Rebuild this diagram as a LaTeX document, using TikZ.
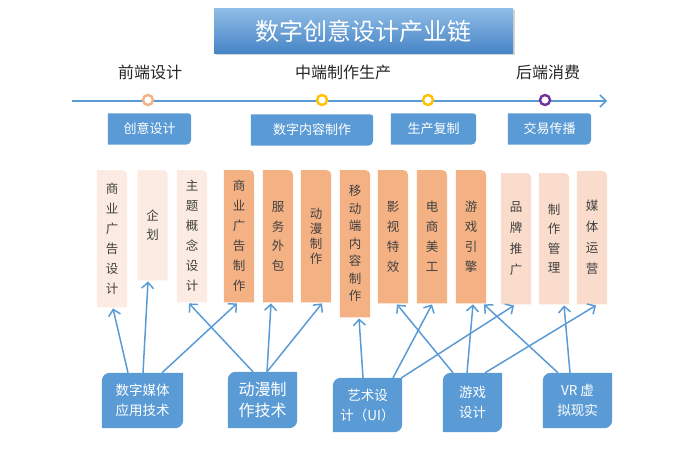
\documentclass[tikz,border=0pt]{standalone}
\usepackage{fontspec}
\setmainfont{Noto Sans CJK SC}
\usepackage{tikz}
\usetikzlibrary{arrows.meta}
\usetikzlibrary{backgrounds}
\usetikzlibrary{shadows}

\definecolor{mblue}{HTML}{5B9BD5}
\definecolor{tblue}{HTML}{8FBCE6}
\definecolor{dblue}{HTML}{4785C6}
\definecolor{pinkL}{HTML}{FCEBE2}
\definecolor{pinkM}{HTML}{F9DCCB}
\definecolor{orangeM}{HTML}{F4B183}
\definecolor{gold}{HTML}{FFC000}
\definecolor{violet}{HTML}{7030A0}
\definecolor{ink}{HTML}{404040}

\begin{document}
\begin{tikzpicture}[x=1pt,y=1pt,
    title/.style={minimum width=299pt,minimum height=44pt,top color=tblue,bottom color=dblue,
      text=white,font=\fontsize{24}{28}\selectfont,
      drop shadow={opacity=0.35,shadow xshift=1.5pt,shadow yshift=-1.5pt}},
    head/.style={text=black!85,font=\fontsize{16}{18}\selectfont},
    ring/.style={circle,draw=#1,line width=2.4pt,fill=white,minimum size=10pt,inner sep=0pt},
    stage/.style={text=white,font=\fontsize{13}{15}\selectfont,inner sep=0pt,minimum height=31pt},
    col/.style={text=ink,inner sep=0pt,minimum width=30pt,anchor=north,align=center},
    base/.style={text=white,inner sep=0pt,align=center,font=\fontsize{13.5}{20}\selectfont},
    link/.style={mblue,line width=1.5pt,-{Straight Barb[length=6pt,width=12pt]}}]
  \useasboundingbox (0,0) rectangle (692,451);
  \node[title] (T) at (363.5,420) {数字创意设计产业链};
  \node[head] (H1) at (150,379) {前端设计};
  \node[head] (H2) at (343,379) {中端制作生产};
  \node[head] (H3) at (548,379) {后端消费};
  \coordinate (L0) at (72,350);
  \coordinate (L1) at (607,350);
  \draw[mblue,line width=1.5pt,-{Straight Barb[length=6pt,width=12pt]}] (L0) -- (L1);
  \node[ring=orangeM] (P1) at (148,351) {};
  \node[ring=gold] (P2) at (322,351) {};
  \node[ring=gold] (P3) at (428,351) {};
  \node[ring=violet] (P4) at (545,351) {};
  \node[stage,minimum width=83pt] (S1) at (149.5,322) {创意设计};
  \node[stage,minimum width=122pt] (S2) at (312,321) {数字内容制作};
  \node[stage,minimum width=85pt] (S3) at (433.5,322) {生产复制};
  \node[stage,minimum width=83pt] (S4) at (549.5,322) {交易传播};
  \foreach \n/\x/\y/\h/\s/\txt in {
      C1/112/281/137/20/{商\\业\\广\\告\\设\\计},
      C2/152.5/281/110/19/{企\\划},
      C3/192/281/132/20/{主\\题\\概\\念\\设\\计},
      C4/239/281/132/20/{商\\业\\广\\告\\制\\作},
      C5/278/281/132/19.5/{服\\务\\外\\包},
      C6/316/281/132/15/{动\\漫\\制\\作},
      C7/355/281/147/17.5/{移\\动\\端\\内\\容\\制\\作},
      C8/393/281/133/20/{影\\视\\特\\效},
      C9/432/281/133/20/{电\\商\\美\\工},
      C10/471/281/133/20/{游\\戏\\引\\擎},
      C11/516/278/131/21/{品\\牌\\推\\广},
      C12/554/278/131/19.5/{制\\作\\管\\理},
      C13/592/280/133/21/{媒\\体\\运\\营}}
    \node[col,minimum height=\h pt,font=\fontsize{12.5}{\s}\selectfont] (\n) at (\x,\y) {\txt};
  \node[base,minimum width=81pt,minimum height=55pt] (B1) at (142.5,50.5) {数字媒体\\应用技术};
  \node[base,minimum width=69pt,minimum height=56pt,font=\fontsize{16}{21}\selectfont] (B2) at (262.5,51) {动漫制\\作技术};
  \node[base,minimum width=69pt,minimum height=54pt] (B3) at (367.5,46) {艺术设\\计（UI）};
  \node[base,minimum width=59pt,minimum height=59pt] (B4) at (472.5,48.5) {游戏\\设计};
  \node[base,minimum width=69pt,minimum height=55pt] (B5) at (577.5,50.5) {VR 虚\\拟现实};
  \begin{scope}[on background layer]
    \foreach \n/\clr in {C1/pinkL,C2/pinkL,C3/pinkL,C4/orangeM,C5/orangeM,C6/orangeM,C7/orangeM,
        C8/orangeM,C9/orangeM,C10/orangeM,C11/pinkM,C12/pinkM,C13/pinkM}
      \fill[\clr] (\n.south west) -- (\n.north west) -- ([xshift=-5pt]\n.north east)
        arc[start angle=90,end angle=0,radius=5pt] -- (\n.south east) -- cycle;
    \foreach \n in {S1,S2,S3,S4}
      \fill[mblue] (\n.south west) -- (\n.north west) -- ([xshift=-3pt]\n.north east)
        arc[start angle=90,end angle=0,radius=3pt] -- ([yshift=5pt]\n.south east)
        arc[start angle=0,end angle=-90,radius=5pt] -- cycle;
    \foreach \n in {B1,B2,B3,B4,B5}
      \fill[mblue] (\n.south west) -- ([yshift=-8pt]\n.north west)
        arc[start angle=180,end angle=90,radius=8pt] -- (\n.north east) -- ([yshift=8pt]\n.south east)
        arc[start angle=0,end angle=-90,radius=8pt] -- cycle;
  \end{scope}
  \foreach \a/\da/\b/\db in {B1/-14.5/C1/1,B1/0.5/C2/-4.5,B1/19.5/C4/-2,
      B2/-9.5/C3/-3,B2/4.5/C5/-7,B2/4.5/C6/6,
      B3/-4.5/C7/4,B3/25.5/C9/0,B3/34/C11/-2,
      B4/-19.5/C8/4,B4/-5.5/C10/2,B4/12.5/C13/4,
      B5/-19.5/C10/13,B5/-7.5/C12/10}
    \draw[link] ([xshift=\da pt]\a.north) -- ([xshift=\db pt,yshift=-1pt]\b.south);
\end{tikzpicture}
\end{document}
